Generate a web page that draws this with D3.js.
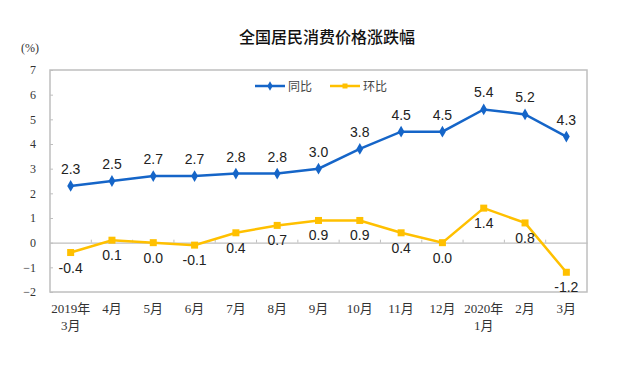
<!DOCTYPE html>
<html>
<head>
<meta charset="utf-8">
<script src="https://cdn.jsdelivr.net/npm/d3@7"></script>
<style>
  body { margin: 0; background: #fff; }
  text { font-family: "Liberation Sans", Arial, "Noto Sans CJK SC", sans-serif; }
  .cjk { font-family: "Liberation Serif", "Noto Sans CJK SC", serif; }
</style>
</head>
<body>
<div id="chart"></div>
<script>
// categories (second line of label after "|")
const months = ["2019年|3月", "4月", "5月", "6月", "7月", "8月", "9月", "10月", "11月", "12月", "2020年|1月", "2月", "3月"];
const yoy = [2.3, 2.5, 2.7, 2.7, 2.8, 2.8, 3.0, 3.8, 4.5, 4.5, 5.4, 5.2, 4.3];   // 同比
const mom = [-0.4, 0.1, 0.0, -0.1, 0.4, 0.7, 0.9, 0.9, 0.4, 0.0, 1.4, 0.8, -1.2]; // 环比
const yTicks = [-2, -1, 0, 1, 2, 3, 4, 5, 6, 7];

const W = 623, H = 365;
const plot = { left: 50, right: 587, top: 70, bottom: 292 };
const blue = "#1565c8", yellow = "#ffc000", grid = "#bfbfbf";

const svg = d3.select("#chart").append("svg")
    .attr("width", W).attr("height", H);

const x = d3.scaleBand().domain(months).range([plot.left, plot.right]);
const y = d3.scaleLinear().domain([-2, 7]).range([plot.bottom, plot.top]);
const cx = d => x(d) + x.bandwidth() / 2;

// title
svg.append("text")
    .attr("x", 327).attr("y", 43)
    .attr("text-anchor", "middle")
    .attr("font-size", 16).attr("font-weight", 500)
    .style("font-family", "'Noto Sans CJK SC', sans-serif")
    .attr("fill", "#111")
    .text("全国居民消费价格涨跌幅");

svg.append("text")
    .attr("class", "cjk")
    .attr("x", 30).attr("y", 52)
    .attr("text-anchor", "middle")
    .attr("font-size", 12).attr("fill", "#333")
    .text("(%)");

// frame
svg.append("rect")
    .attr("x", plot.left).attr("y", plot.top)
    .attr("width", plot.right - plot.left).attr("height", plot.bottom - plot.top)
    .attr("fill", "none").attr("stroke", grid).attr("stroke-width", 1.5);

// y axis
const yAxis = svg.append("g")
    .attr("transform", `translate(${plot.left},0)`)
    .call(d3.axisLeft(y).tickValues(yTicks).tickSize(-3).tickPadding(14).tickFormat(d3.format("d")));
yAxis.select(".domain").remove();
yAxis.selectAll(".tick line").attr("stroke", grid);
yAxis.selectAll("text")
    .attr("class", "cjk")
    .attr("font-size", 12).attr("fill", "#333");

// zero line with category ticks
const xAxis = svg.append("g")
    .attr("transform", `translate(0,${y(0)})`)
    .call(d3.axisBottom(x).tickSize(0).tickFormat(""));
xAxis.select(".domain").attr("stroke", grid).attr("stroke-width", 1.2);
xAxis.selectAll(".tick").remove();
xAxis.selectAll("line.sep")
    .data(months.slice(1))
    .join("line")
    .attr("class", "sep")
    .attr("x1", d => x(d)).attr("x2", d => x(d))
    .attr("y1", -3).attr("y2", 0)
    .attr("stroke", grid);

// category labels
const lab = svg.append("g").selectAll("text")
    .data(months)
    .join("text")
    .attr("class", "cjk")
    .attr("x", d => cx(d))
    .attr("y", 313)
    .attr("text-anchor", "middle")
    .attr("font-size", 13).attr("fill", "#333");
lab.each(function(d) {
    const parts = d.split("|");
    const t = d3.select(this);
    parts.forEach((p, i) => {
        t.append("tspan").attr("x", cx(d)).attr("dy", i ? 17 : 0).text(p);
    });
});

const line = d3.line().x((d, i) => cx(months[i])).y(d => y(d));

// 同比
svg.append("path").datum(yoy)
    .attr("d", line).attr("fill", "none")
    .attr("stroke", blue).attr("stroke-width", 2.5);
svg.append("g").selectAll("path")
    .data(yoy)
    .join("path")
    .attr("d", d3.symbol(d3.symbolDiamond, 40))
    .attr("transform", (d, i) => `translate(${cx(months[i])},${y(d)})`)
    .attr("fill", blue);
svg.append("g").selectAll("text")
    .data(yoy)
    .join("text")
    .attr("x", (d, i) => cx(months[i]))
    .attr("y", d => y(d) - 12)
    .attr("text-anchor", "middle")
    .attr("font-size", 14).attr("fill", "#222")
    .text(d => d.toFixed(1));

// 环比
svg.append("path").datum(mom)
    .attr("d", line).attr("fill", "none")
    .attr("stroke", yellow).attr("stroke-width", 2.5);
svg.append("g").selectAll("rect")
    .data(mom)
    .join("rect")
    .attr("x", (d, i) => cx(months[i]) - 3.5)
    .attr("y", d => y(d) - 3.5)
    .attr("width", 7).attr("height", 7)
    .attr("fill", yellow);
svg.append("g").selectAll("text")
    .data(mom)
    .join("text")
    .attr("x", (d, i) => cx(months[i]))
    .attr("y", d => y(d) + 20)
    .attr("text-anchor", "middle")
    .attr("font-size", 14).attr("fill", "#222")
    .text(d => d.toFixed(1));

// legend
const legend = [{name: "同比", color: blue, sym: d3.symbolDiamond}, {name: "环比", color: yellow, sym: d3.symbolSquare}];
const lg = svg.append("g").selectAll("g")
    .data(legend)
    .join("g")
    .attr("transform", (d, i) => `translate(${255 + i * 75},86)`);
lg.append("line")
    .attr("x1", 0).attr("x2", 30)
    .attr("stroke", d => d.color).attr("stroke-width", 2.5);
lg.append("path")
    .attr("d", d => d3.symbol(d.sym, 25)())
    .attr("transform", "translate(15,0)")
    .attr("fill", d => d.color);
lg.append("text")
    .attr("x", 33).attr("y", 4.5)
    .attr("font-size", 12).attr("fill", "#444")
    .style("font-family", "'Noto Sans CJK SC', sans-serif")
    .text(d => d.name);
</script>
</body>
</html>
